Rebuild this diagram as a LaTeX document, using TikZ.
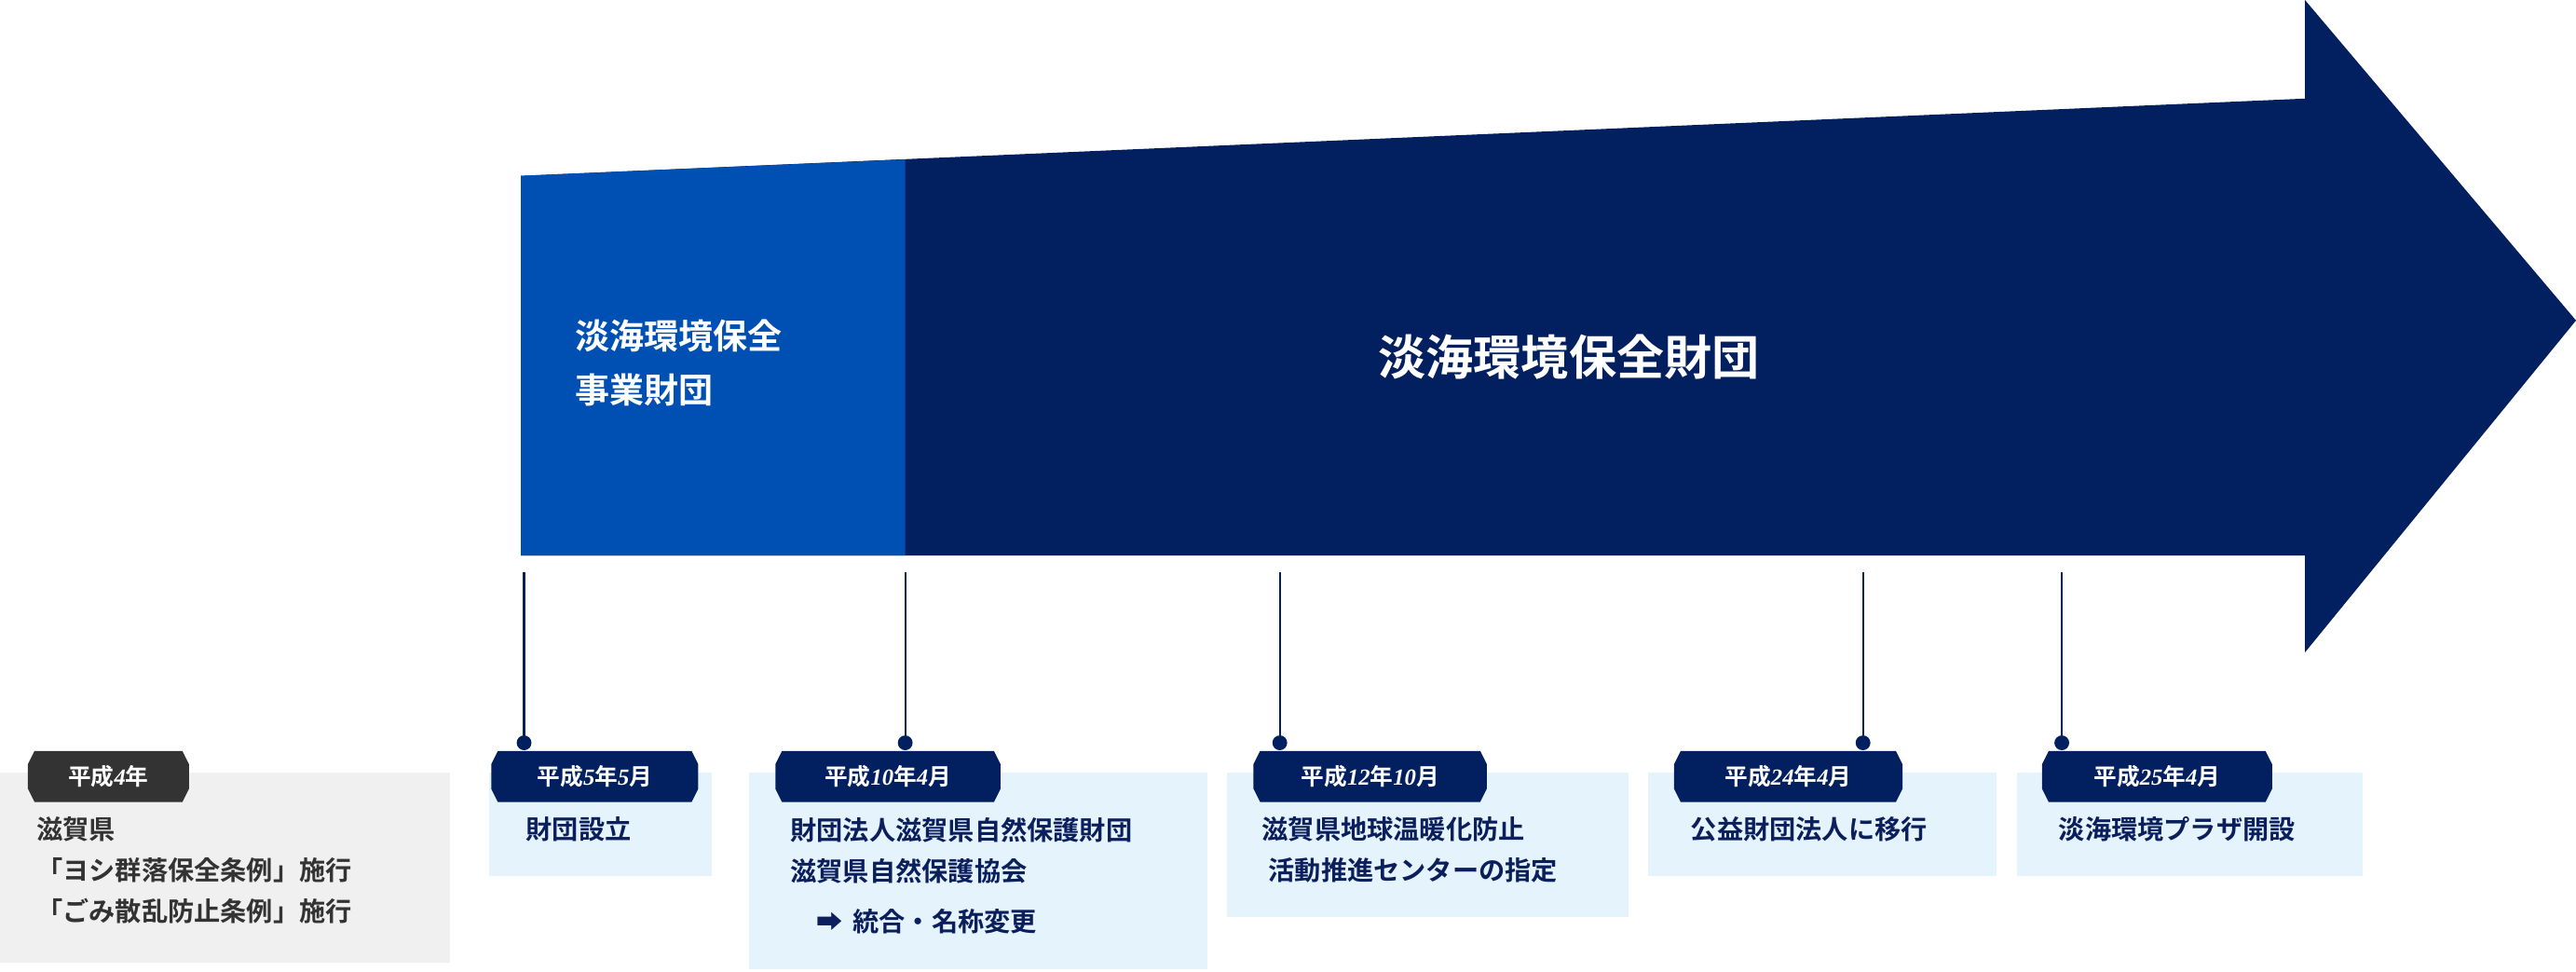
\documentclass[tikz,border=0pt]{standalone}
\usepackage{fontspec}
\setmainfont{Noto Sans CJK JP}[BoldFont={* Bold}]
\newfontfamily\numf{Liberation Serif}
\definecolor{navy}{HTML}{02205F}
\definecolor{midblue}{HTML}{0050B3}
\definecolor{lightbox}{HTML}{E5F3FD}
\definecolor{graybox}{HTML}{F0F0F0}
\definecolor{tagdark}{HTML}{333333}
\definecolor{txtnavy}{HTML}{0A1F5C}
\newcommand{\nm}[1]{{\numf\itshape\bfseries #1}}
\tikzset{
  tagtxt/.style={text=white,font=\bfseries\fontsize{14}{16}\selectfont,inner sep=0pt},
  boxtxt/.style={text=txtnavy,font=\bfseries\fontsize{16}{25}\selectfont,inner sep=0pt,anchor=north west,align=left},
  pin/.style={navy,line width=1.2pt}
}
\newcommand{\tagshape}[4]{% x0,x1,color
  \fill[#3] (#1+4,-457) -- (#2-4,-457) -- (#2,-465) -- (#2,-480) -- (#2-4,-488) -- (#1+4,-488) -- (#1,-480) -- (#1,-465) -- cycle;
  \node[tagtxt] at ({(#1+#2)/2},-472.5) {#4};}
\begin{document}
\begin{tikzpicture}[x=1pt,y=1pt]
\useasboundingbox (0,0) rectangle (1568,-591);
% arrow
\fill[navy] (317,-107) -- (1403,-60) -- (1403,0) -- (1568,-195) -- (1403,-397) -- (1403,-338) -- (317,-338) -- cycle;
\fill[midblue] (317,-107) -- (551,-97) -- (551,-338) -- (317,-338) -- cycle;
\node[text=white,font=\bfseries\fontsize{21}{33}\selectfont,align=left,anchor=west,inner sep=0pt] (t1) at (350,-221) {淡海環境保全\\事業財団};
\node[text=white,font=\bfseries\fontsize{29}{33}\selectfont,inner sep=0pt] (t2) at (955,-217) {淡海環境保全財団};
% boxes
\fill[graybox] (0,-470) rectangle (274,-586);
\fill[lightbox] (298,-470) rectangle (433,-533);
\fill[lightbox] (456,-470) rectangle (735,-590);
\fill[lightbox] (747,-470) rectangle (991,-558);
\fill[lightbox] (1003,-470) rectangle (1215,-533);
\fill[lightbox] (1228,-470) rectangle (1438,-533);
% pins
\foreach \x/\n in {319/a,551/b,779/c,1134/d,1255/e}{
  \coordinate (top\n) at (\x,-348);
  \coordinate (dot\n) at (\x,-452);
  \draw[pin] (top\n) -- (dot\n);
  \fill[navy] (dot\n) circle (4.5);
}
% tags
\tagshape{17}{115}{tagdark}{平成\nm{4}年}
\tagshape{299}{425}{navy}{平成\nm{5}年\nm{5}月}
\tagshape{472}{609}{navy}{平成\nm{10}年\nm{4}月}
\tagshape{763}{905}{navy}{平成\nm{12}年\nm{10}月}
\tagshape{1019}{1158}{navy}{平成\nm{24}年\nm{4}月}
\tagshape{1243}{1383}{navy}{平成\nm{25}年\nm{4}月}
% texts
\node[boxtxt,text=tagdark] (g) at (22,-497) {滋賀県\\「ヨシ群落保全条例」施行\\「ごみ散乱防止条例」施行};
\node[boxtxt] (b1) at (320,-497) {財団設立};
\node[boxtxt] (b2) at (481,-497) {財団法人滋賀県自然保護財団\\滋賀県自然保護協会};
\node[boxtxt] (b2b) at (497,-553) {➡\hspace{6pt}統合・名称変更};
\node[boxtxt] (b3) at (768,-497) {滋賀県地球温暖化防止\\\hspace{4pt}活動推進センターの指定};
\node[boxtxt] (b4) at (1029,-497) {公益財団法人に移行};
\node[boxtxt] (b5) at (1253,-497) {淡海環境プラザ開設};
\end{tikzpicture}
\end{document}
